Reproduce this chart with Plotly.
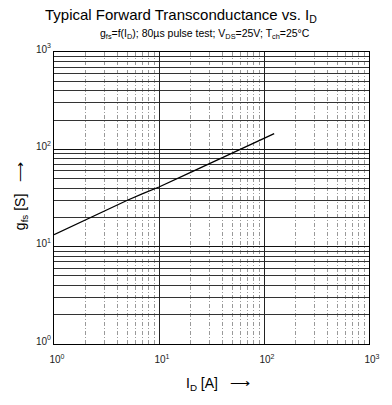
import plotly.graph_objects as go

# Data
id_a = [1, 2, 3, 5, 7, 10, 20, 30, 50, 70, 100, 125]
gfs_s = [13.3, 19, 23.5, 30, 35, 41, 58, 71, 92, 108, 130, 145]

x_tickvals = [1, 10, 100, 1000]
x_ticktext = ["10<sup>0</sup>", "10<sup>1</sup>", "10<sup>2</sup>", "10<sup>3</sup>"]
y_tickvals = [1, 10, 100, 1000]
y_ticktext = ["10<sup>0</sup>", "10<sup>1</sup>", "10<sup>2</sup>", "10<sup>3</sup>"]

FONT = "Arial, Liberation Sans, sans-serif"

fig = go.Figure()
fig.add_trace(go.Scatter(x=id_a, y=gfs_s, mode="lines",
                         line=dict(color="black", width=1.3), showlegend=False))

L, R, T, B = 54, 12, 52, 61
W, H = 392, 405
pw = W - L - R

fig.update_layout(
    width=W, height=H,
    margin=dict(l=L, r=R, t=T, b=B),
    paper_bgcolor="white", plot_bgcolor="white",
    font=dict(family=FONT, color="black", size=10),
)
fig.update_xaxes(
    type="log", range=[0, 3],
    tickmode="array", tickvals=x_tickvals, ticktext=x_ticktext,
    showgrid=True, gridcolor="#222", gridwidth=1,
    minor=dict(dtick="D1", showgrid=True, gridcolor="#9a9a9a", griddash="4px,2px,1px,2px", gridwidth=1),
    showline=True, linecolor="black", linewidth=1, mirror=True,
    ticks="", tickfont=dict(size=10, color="#222"), zeroline=False,
    ticklabelstandoff=6, ticklabelshift=3,
)
fig.update_yaxes(
    type="log", range=[0, 3],
    tickmode="array", tickvals=y_tickvals, ticktext=y_ticktext,
    showgrid=True, gridcolor="#111", gridwidth=1.2,
    minor=dict(dtick="D1", showgrid=True, gridcolor="#333", gridwidth=1),
    showline=True, linecolor="black", linewidth=1, mirror=True,
    ticks="", tickfont=dict(size=10, color="#222"), zeroline=False,
    ticklabelshift=-3,
)

def px(xp):
    return (xp - L) / pw

ph = H - T - B
def py(yp):
    return (H - B - yp) / ph

fig.add_annotation(text="Typical Forward Transconductance vs. I<sub>D</sub>",
                   x=px(185), y=py(16), xref="paper", yref="paper",
                   showarrow=False, font=dict(size=15, family=FONT),
                   xanchor="center", yanchor="middle")
fig.add_annotation(text="g<sub>fs</sub>=f(I<sub>D</sub>); 80µs pulse test; V<sub>DS</sub>=25V; T<sub>ch</sub>=25°C",
                   x=px(210), y=py(34), xref="paper", yref="paper",
                   showarrow=False, font=dict(size=10.5, family=FONT),
                   xanchor="center", yanchor="middle")
fig.add_annotation(text="I<sub>D</sub> [A]   ⟶",
                   x=px(224), y=py(384), xref="paper", yref="paper",
                   showarrow=False, font=dict(size=14, family=FONT),
                   xanchor="center", yanchor="middle")
fig.add_annotation(text="g<sub>fs</sub> [S]   ⟶",
                   x=px(20), y=py(196), xref="paper", yref="paper",
                   showarrow=False, font=dict(size=14, family=FONT),
                   textangle=-90, xanchor="center", yanchor="middle")

fig.write_html("out.html")
